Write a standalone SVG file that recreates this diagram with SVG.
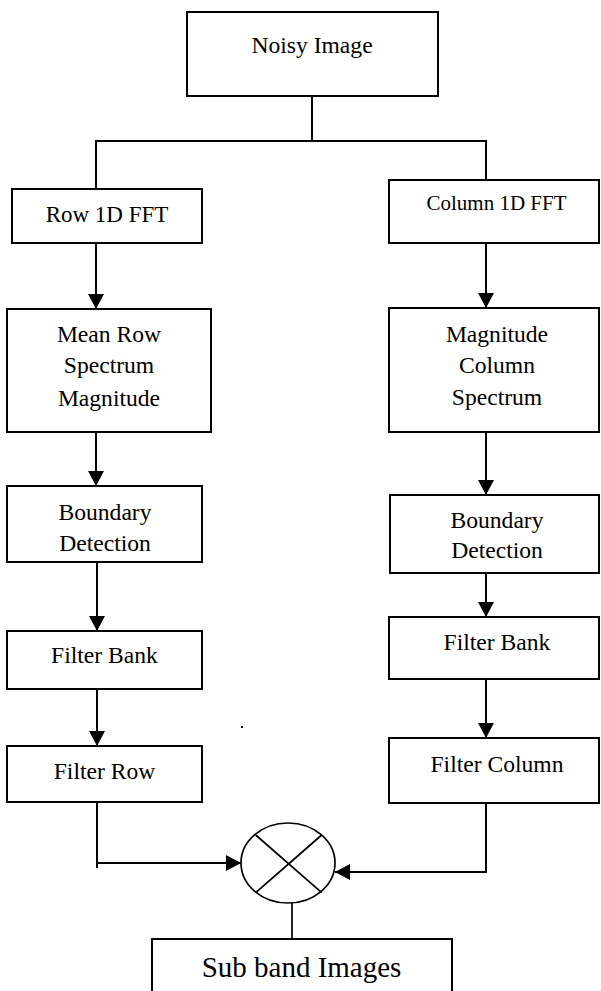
<svg xmlns="http://www.w3.org/2000/svg" width="601" height="991" viewBox="0 0 601 991">
<style>
.box{fill:#fff;stroke:#000;stroke-width:2}
.t{font-family:"Liberation Serif","Times New Roman",serif;font-size:23.6px;fill:#000;text-anchor:middle}
.c{fill:none;stroke:#000;stroke-width:2}
.thin{fill:none;stroke:#000;stroke-width:1.7}
</style>
<defs>
<marker id="ah" markerUnits="userSpaceOnUse" markerWidth="16" markerHeight="16" refX="15" refY="8" orient="auto">
<path d="M0,0 L15,8 L0,16 Z" fill="#000"/>
</marker>
</defs>
<rect width="601" height="991" fill="#fff"/>
<g id="connectors">
<path class="c" d="M312,96 V141 M96,141 H487 M96,140 V189 M486,140 V180"/>
<path class="c" d="M96,243 V309" marker-end="url(#ah)"/>
<path class="c" d="M96,432 V486" marker-end="url(#ah)"/>
<path class="c" d="M97,562 V631" marker-end="url(#ah)"/>
<path class="c" d="M97,689 V746" marker-end="url(#ah)"/>
<path class="c" d="M486,243 V308" marker-end="url(#ah)"/>
<path class="c" d="M486,432 V495" marker-end="url(#ah)"/>
<path class="c" d="M486,573 V617" marker-end="url(#ah)"/>
<path class="c" d="M486,679 V738" marker-end="url(#ah)"/>
<path class="c" d="M97,802 V868"/>
<path class="c" d="M96,863 H241" marker-end="url(#ah)"/>
<path class="c" d="M486,803 V872 H335" marker-end="url(#ah)"/>
<path class="thin" d="M292,903 V939"/>
<rect x="241" y="726" width="2" height="2" fill="#000"/>
</g>
<g id="noisy"><rect class="box" x="187" y="12" width="251" height="84"/><text class="t" x="312" y="53">Noisy Image</text></g>
<g id="row-fft"><rect class="box" x="12" y="189" width="190" height="54"/><text class="t" x="107" y="222" style="font-size:23px">Row 1D FFT</text></g>
<g id="mean-row"><rect class="box" x="7" y="309" width="204" height="123"/><text class="t" x="109" y="342">Mean Row</text><text class="t" x="109" y="373">Spectrum</text><text class="t" x="109" y="405.5">Magnitude</text></g>
<g id="boundary-left"><rect class="box" x="7" y="486" width="195" height="76"/><text class="t" x="105" y="520">Boundary</text><text class="t" x="105" y="550.5">Detection</text></g>
<g id="filterbank-left"><rect class="box" x="7" y="631" width="195" height="58"/><text class="t" x="104.5" y="663">Filter Bank</text></g>
<g id="filter-row"><rect class="box" x="7" y="746" width="195" height="56"/><text class="t" x="104.5" y="779">Filter Row</text></g>
<g id="col-fft"><rect class="box" x="389" y="180" width="210" height="63"/><text class="t" x="496.5" y="210" style="font-size:21px">Column 1D FFT</text></g>
<g id="mag-col"><rect class="box" x="389" y="308" width="210" height="124"/><text class="t" x="497" y="342">Magnitude</text><text class="t" x="497" y="373">Column</text><text class="t" x="497" y="405">Spectrum</text></g>
<g id="boundary-right"><rect class="box" x="390" y="495" width="209" height="78"/><text class="t" x="497" y="528">Boundary</text><text class="t" x="497" y="558">Detection</text></g>
<g id="filterbank-right"><rect class="box" x="389" y="617" width="210" height="62"/><text class="t" x="497" y="650">Filter Bank</text></g>
<g id="filter-column"><rect class="box" x="389" y="738" width="210" height="65"/><text class="t" x="497" y="772">Filter Column</text></g>
<g id="multiplier"><ellipse class="thin" cx="288" cy="863" rx="47" ry="40"/><path class="thin" d="M255.7,835 L321.7,892.7 M321.7,835 L255.7,892.7"/></g>
<g id="subband"><rect class="box" x="152" y="939" width="300" height="60"/><text class="t" x="301.5" y="976.5" style="font-size:29px">Sub band Images</text></g>
</svg>
